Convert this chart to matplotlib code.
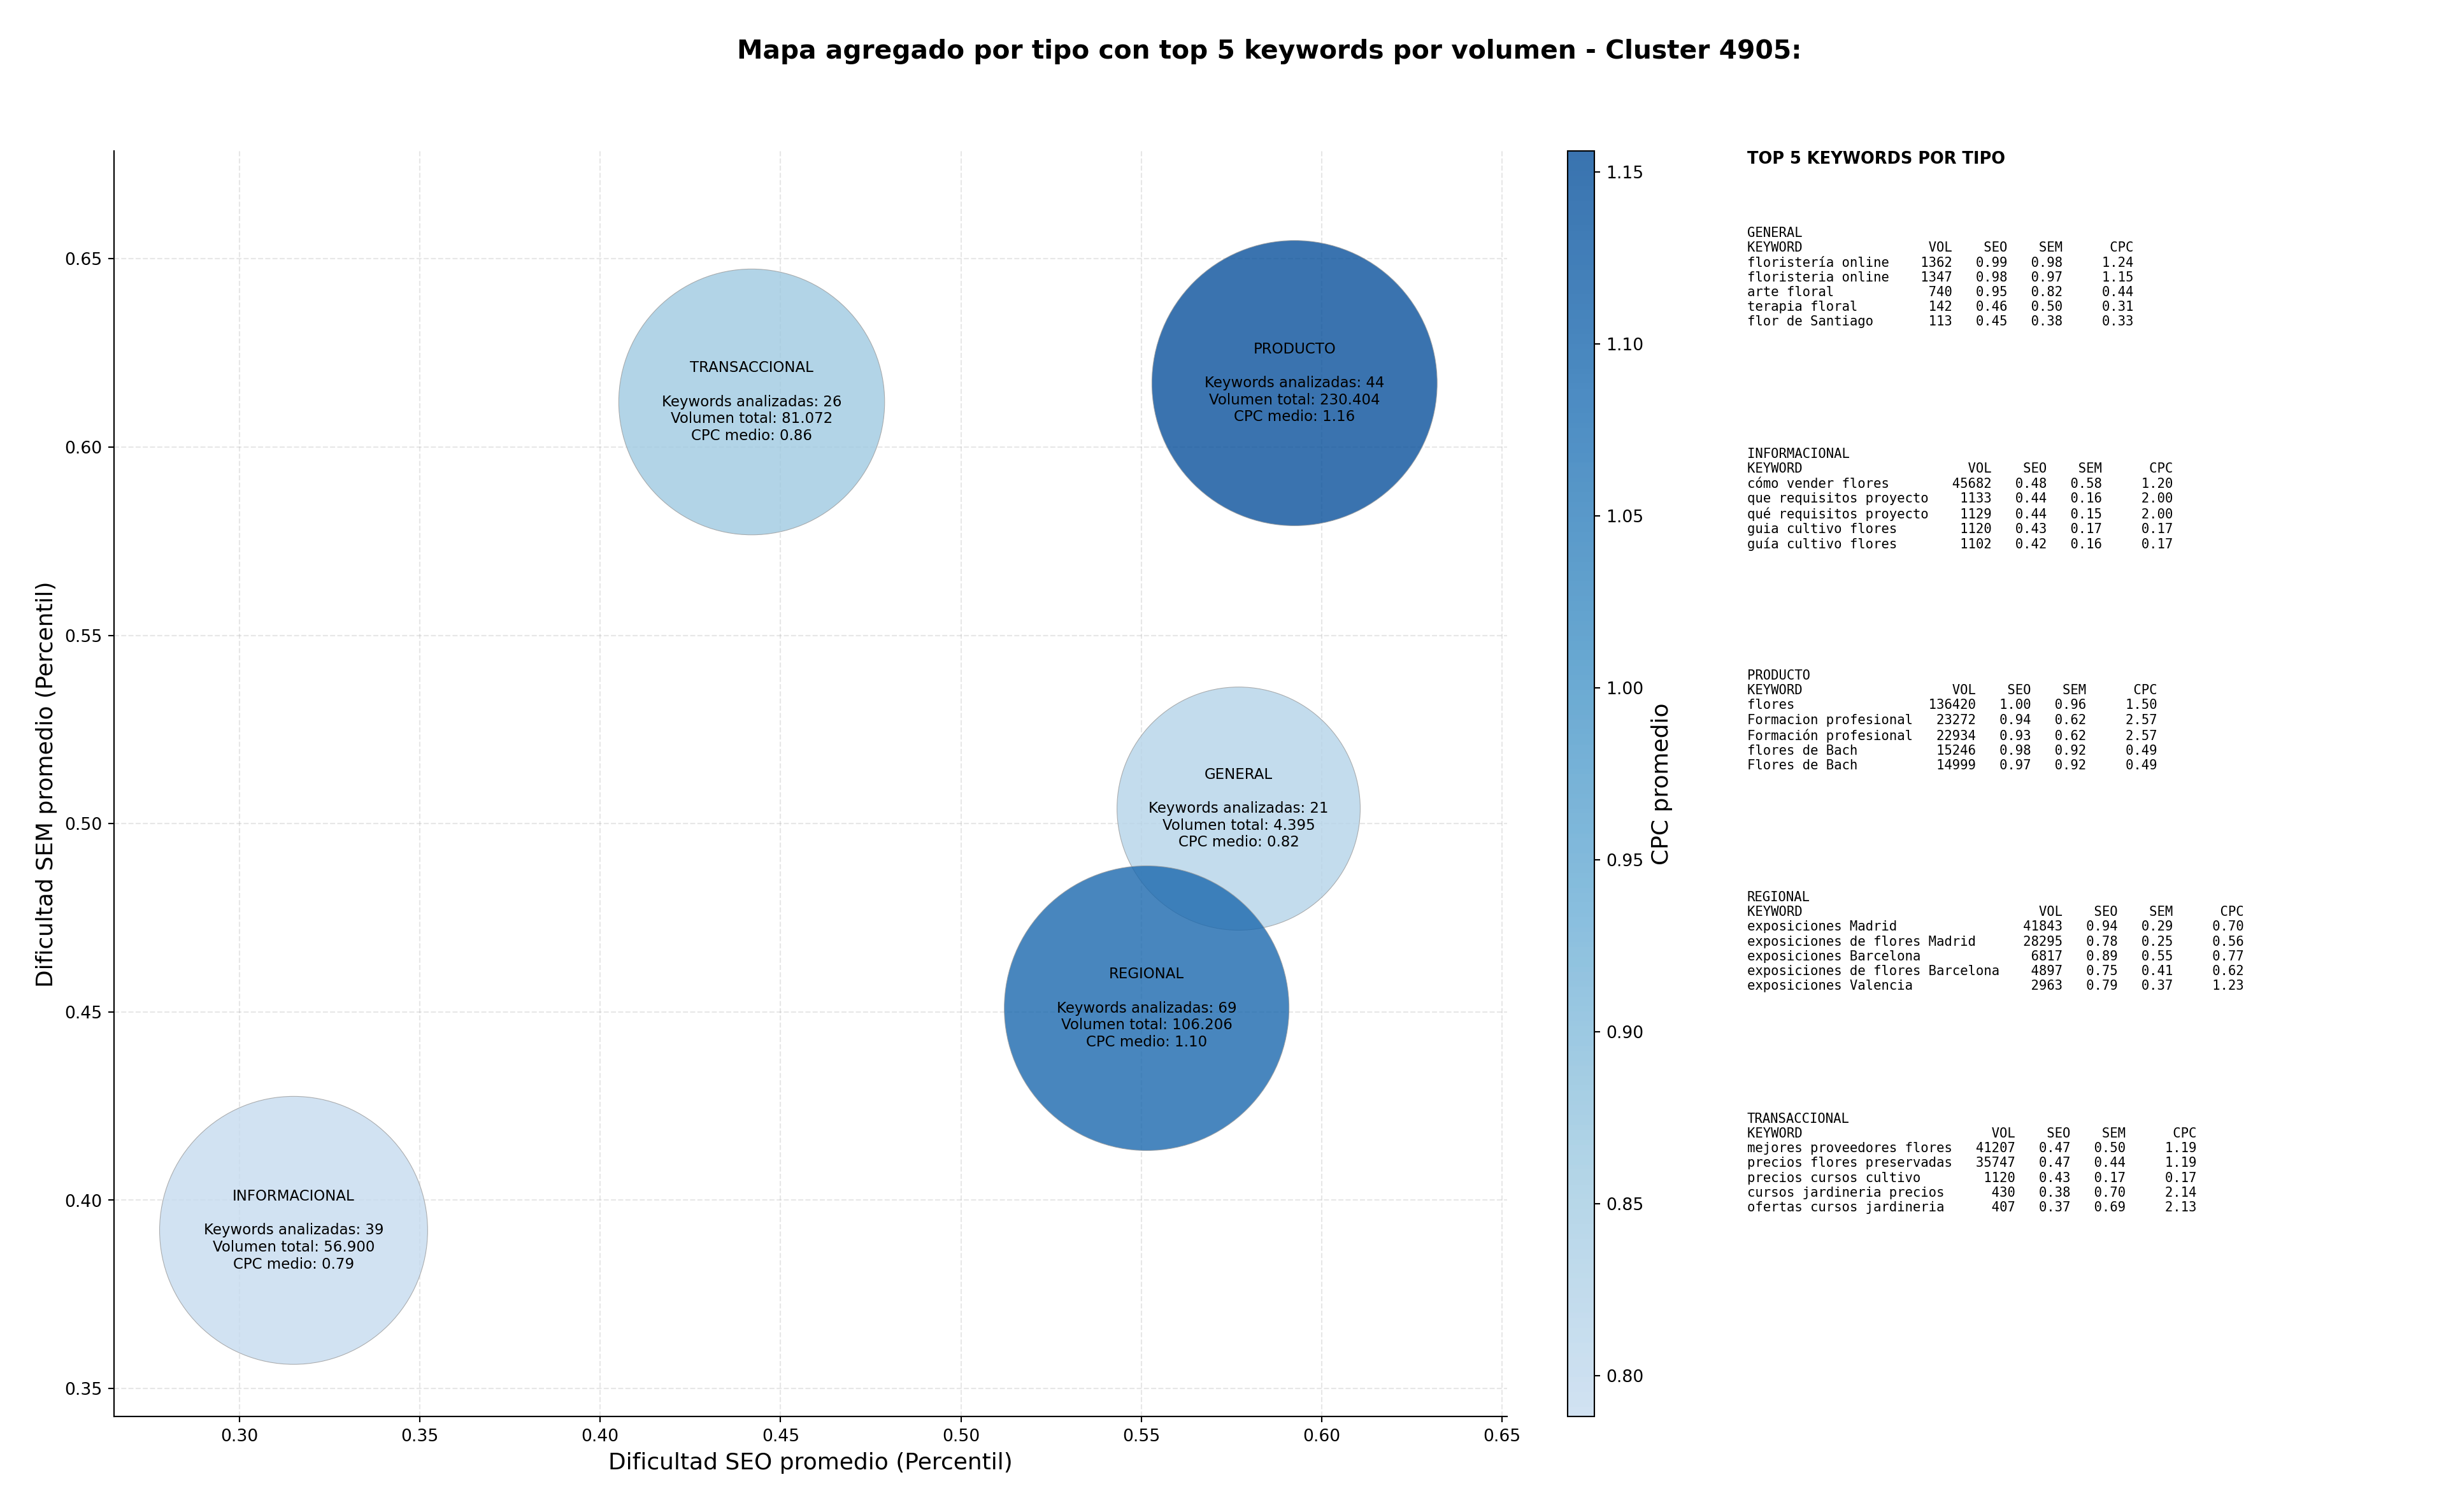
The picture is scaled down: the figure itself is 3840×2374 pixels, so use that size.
import matplotlib
matplotlib.use("Agg")
import matplotlib.pyplot as plt
import numpy as np
from matplotlib.colors import LinearSegmentedColormap

# datos agregados por tipo
tipos = ["GENERAL", "INFORMACIONAL", "PRODUCTO", "REGIONAL", "TRANSACCIONAL"]
seo_medio = [0.577, 0.315, 0.5925, 0.5515, 0.442]
sem_medio = [0.504, 0.392, 0.617, 0.451, 0.612]
n_keywords = [21, 39, 44, 69, 26]
volumen_total = [4395, 56900, 230404, 106206, 81072]
cpc_medio = [0.82, 0.788, 1.156, 1.10, 0.86]
tam_burbuja = [20500, 24900, 28200, 28100, 24500]

# top 5 keywords por tipo: (keyword, vol, seo, sem, cpc)
top_general = [
    ("floristería online", 1362, 0.99, 0.98, 1.24),
    ("floristeria online", 1347, 0.98, 0.97, 1.15),
    ("arte floral", 740, 0.95, 0.82, 0.44),
    ("terapia floral", 142, 0.46, 0.50, 0.31),
    ("flor de Santiago", 113, 0.45, 0.38, 0.33),
]
top_informacional = [
    ("cómo vender flores", 45682, 0.48, 0.58, 1.20),
    ("que requisitos proyecto", 1133, 0.44, 0.16, 2.00),
    ("qué requisitos proyecto", 1129, 0.44, 0.15, 2.00),
    ("guia cultivo flores", 1120, 0.43, 0.17, 0.17),
    ("guía cultivo flores", 1102, 0.42, 0.16, 0.17),
]
top_producto = [
    ("flores", 136420, 1.00, 0.96, 1.50),
    ("Formacion profesional", 23272, 0.94, 0.62, 2.57),
    ("Formación profesional", 22934, 0.93, 0.62, 2.57),
    ("flores de Bach", 15246, 0.98, 0.92, 0.49),
    ("Flores de Bach", 14999, 0.97, 0.92, 0.49),
]
top_regional = [
    ("exposiciones Madrid", 41843, 0.94, 0.29, 0.70),
    ("exposiciones de flores Madrid", 28295, 0.78, 0.25, 0.56),
    ("exposiciones Barcelona", 6817, 0.89, 0.55, 0.77),
    ("exposiciones de flores Barcelona", 4897, 0.75, 0.41, 0.62),
    ("exposiciones Valencia", 2963, 0.79, 0.37, 1.23),
]
top_transaccional = [
    ("mejores proveedores flores", 41207, 0.47, 0.50, 1.19),
    ("precios flores preservadas", 35747, 0.47, 0.44, 1.19),
    ("precios cursos cultivo", 1120, 0.43, 0.17, 0.17),
    ("cursos jardineria precios", 430, 0.38, 0.70, 2.14),
    ("ofertas cursos jardineria", 407, 0.37, 0.69, 2.13),
]
tops = [top_general, top_informacional, top_producto, top_regional, top_transaccional]


def fmt_miles(v):
    return f"{v:,}".replace(",", ".")


def tabla_texto(nombre, filas):
    w = max(len(f[0]) for f in filas) + 2
    lineas = [nombre, f"{'KEYWORD':<{w}}{'VOL':>6} {'SEO':>6} {'SEM':>6} {'CPC':>8}"]
    for kw, vol, seo, sem, cpc in filas:
        lineas.append(f"{kw:<{w}}{vol:>6} {seo:>6.2f} {sem:>6.2f} {cpc:>8.2f}")
    return "\n".join(lineas)


blues = plt.get_cmap("Blues")
cmap = LinearSegmentedColormap.from_list("blues_trunc", blues(np.linspace(0.25, 0.875, 256)))

fig = plt.figure(figsize=(20, 12.365), dpi=192)
ax = fig.add_axes([0.0466, 0.063, 0.5695, 0.837])
cax = fig.add_axes([0.6409, 0.063, 0.0109, 0.837])

sc = ax.scatter(seo_medio, sem_medio, s=tam_burbuja, c=cpc_medio, cmap=cmap,
                alpha=0.8, edgecolors="#9a9a9a", linewidths=0.4, zorder=3)

for i, tipo in enumerate(tipos):
    etiqueta = (f"{tipo}\n\nKeywords analizadas: {n_keywords[i]}\n"
                f"Volumen total: {fmt_miles(volumen_total[i])}\n"
                f"CPC medio: {cpc_medio[i]:.2f}")
    ax.text(seo_medio[i], sem_medio[i], etiqueta, ha="center", va="center",
            fontsize=8.6, zorder=4)

ax.set_xlim(0.2652, 0.6514)
ax.set_ylim(0.3425, 0.6786)
ax.set_xticks(np.arange(0.30, 0.651, 0.05))
ax.set_yticks(np.arange(0.35, 0.651, 0.05))
ax.set_xlabel("Dificultad SEO promedio (Percentil)", fontsize=13.5)
ax.set_ylabel("Dificultad SEM promedio (Percentil)", fontsize=13.5)
ax.grid(True, linestyle="--", alpha=0.3, zorder=0)
ax.spines["top"].set_visible(False)
ax.spines["right"].set_visible(False)

cb = fig.colorbar(sc, cax=cax)
cb.set_label("CPC promedio", fontsize=13.5)

fig.suptitle("Mapa agregado por tipo con top 5 keywords por volumen - Cluster 4905:",
             fontsize=15.3, fontweight="bold", x=0.519, y=0.966, va="center")

fig.text(0.7143, 0.8947, "TOP 5 KEYWORDS POR TIPO", fontsize=9.6,
         fontweight="bold", va="center", ha="left")
y_bloques = [0.850, 0.7038, 0.5573, 0.4107, 0.2642]
for tipo, filas, yb in zip(tipos, tops, y_bloques):
    fig.text(0.7143, yb, tabla_texto(tipo, filas), fontsize=7.75,
             family="DejaVu Sans Mono", va="top", ha="left", linespacing=1.2)

fig.savefig("out.png", dpi=192)
